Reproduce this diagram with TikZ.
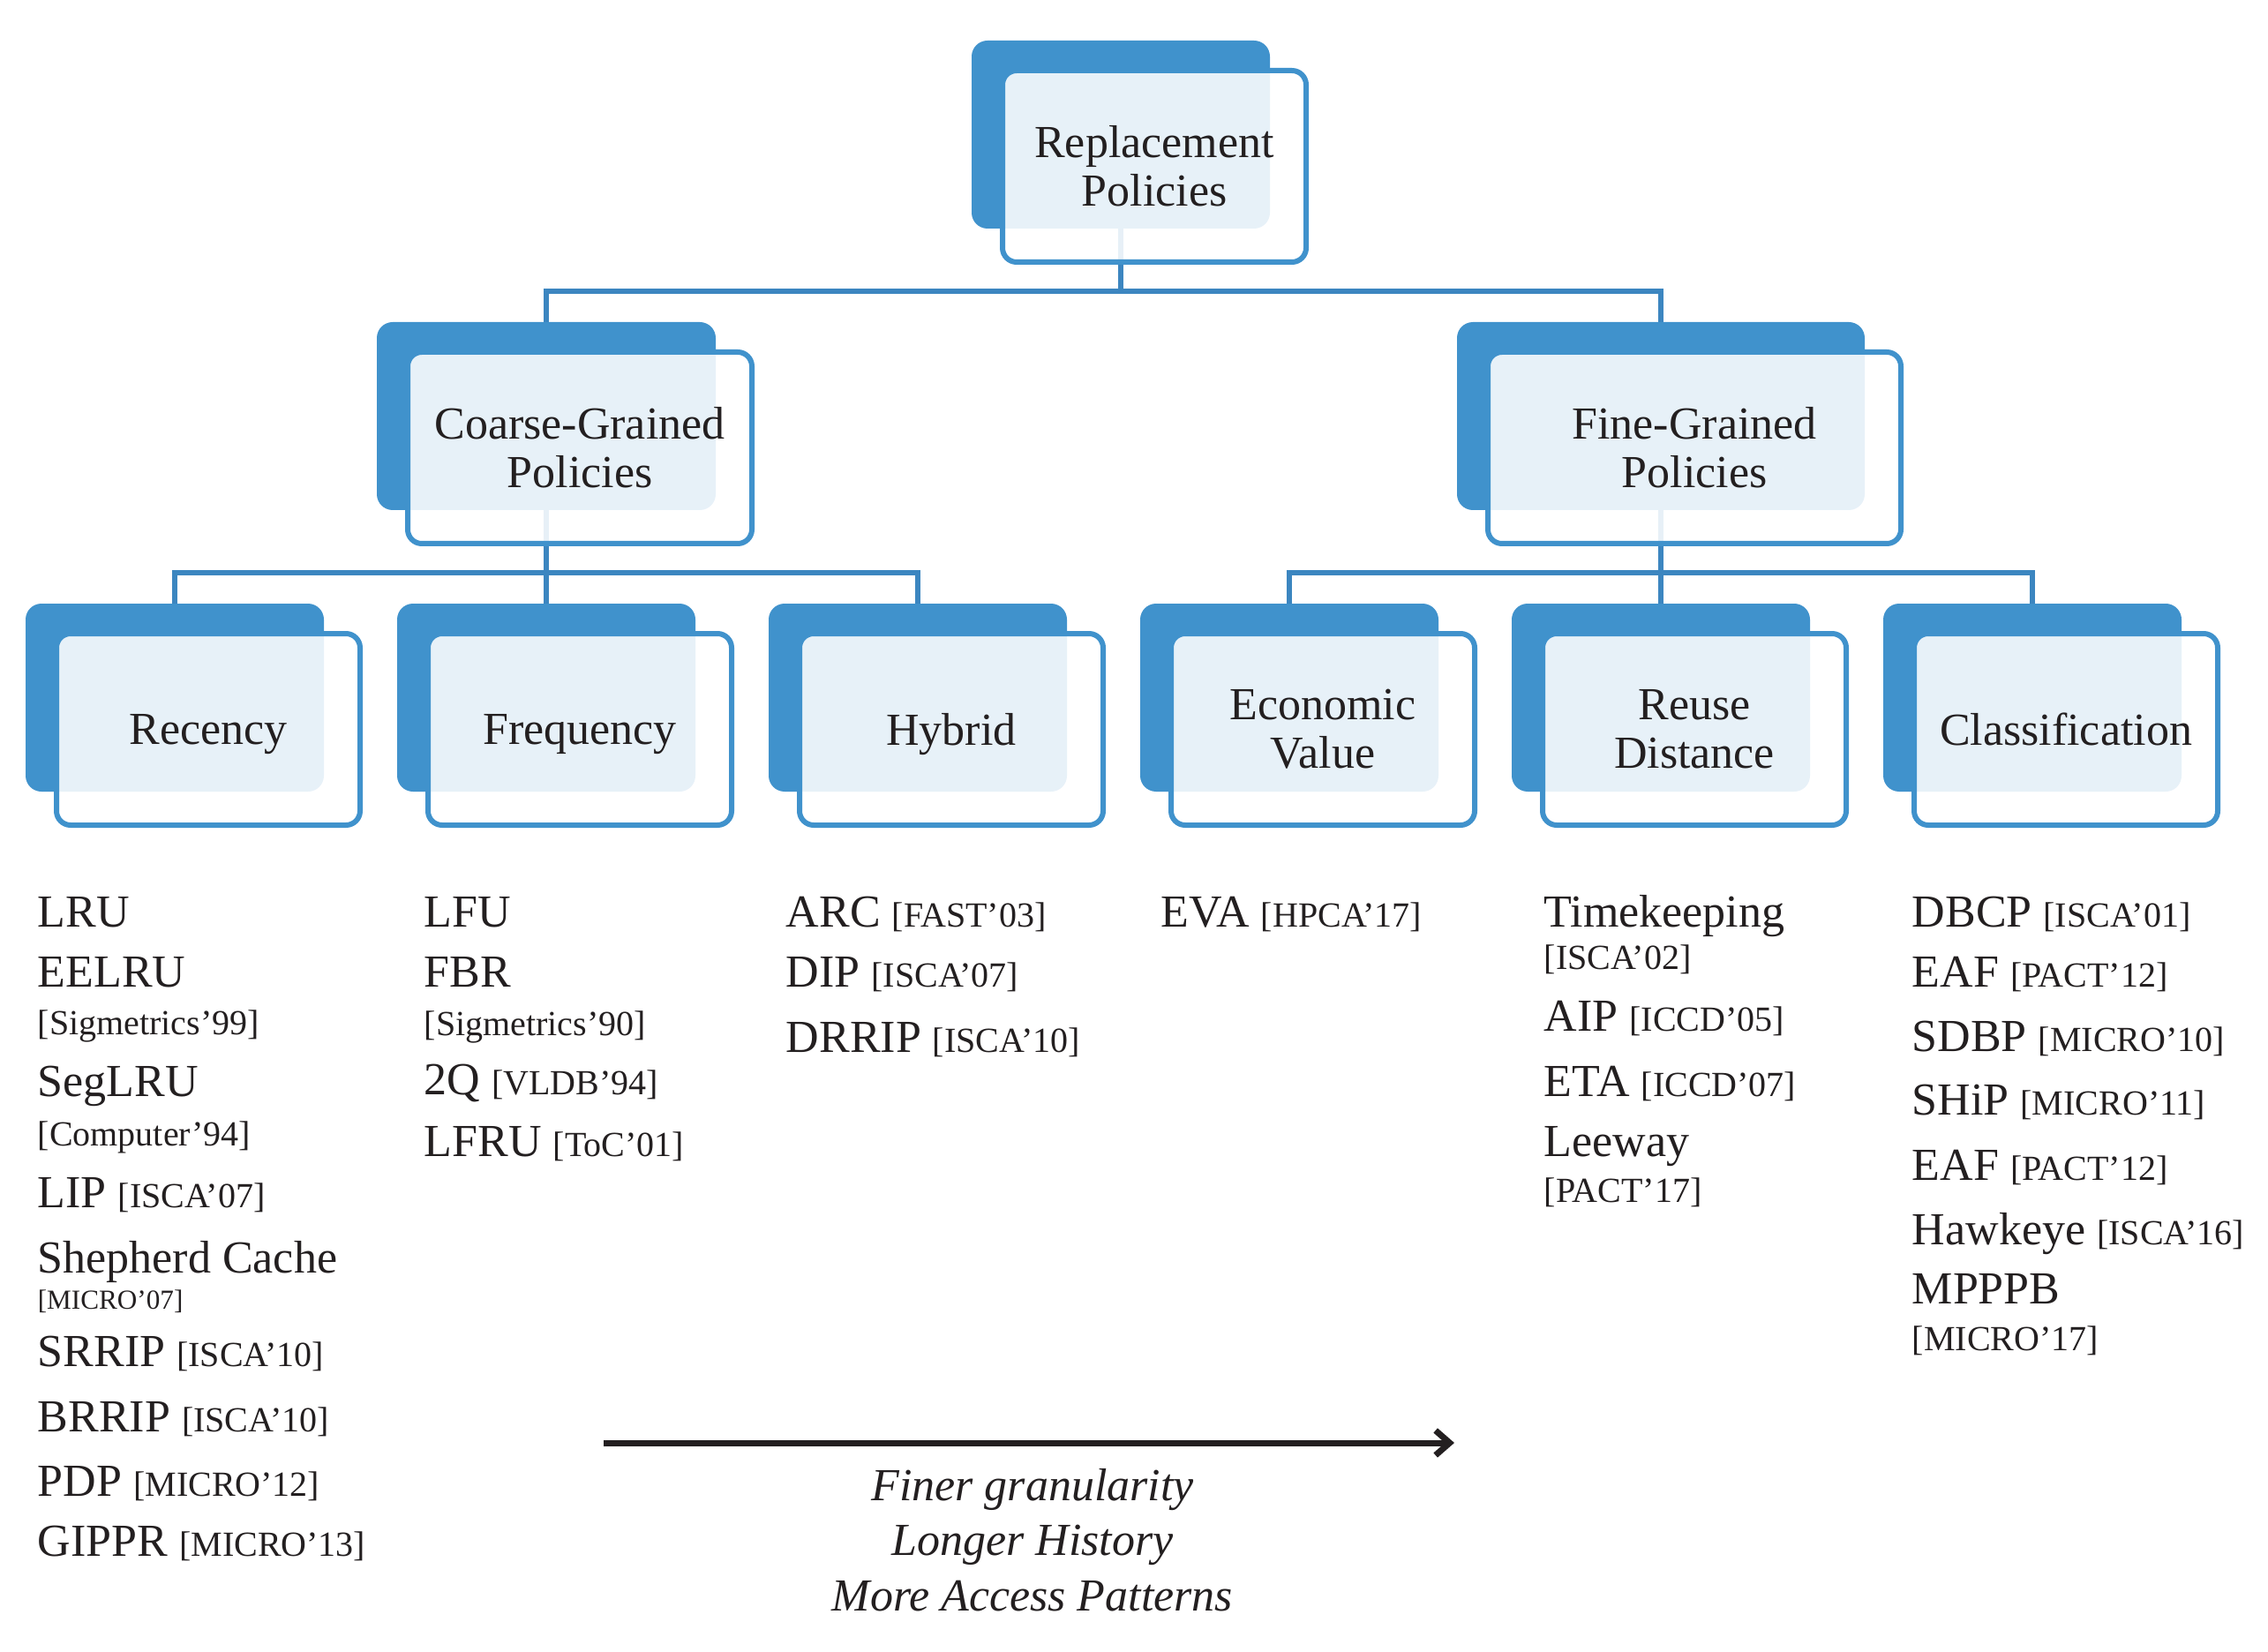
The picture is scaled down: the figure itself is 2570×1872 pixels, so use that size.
\documentclass[tikz,border=0pt]{standalone}
\usepackage{fontspec}
\setmainfont{Liberation Serif}
\usepackage{tikz}
\usetikzlibrary{arrows.meta}
\usetikzlibrary{backgrounds}

\definecolor{boxblue}{RGB}{64,146,204}
\definecolor{linkblue}{RGB}{60,134,192}
\definecolor{ink}{RGB}{35,31,32}

\newcommand{\boxfont}{\fontsize{13}{13.75}\selectfont}
\newcommand{\itemfont}{\fontsize{13}{15}\selectfont}
\newcommand{\citefont}{\fontsize{10}{11}\selectfont}
\newcommand{\tinycite}{\fontsize{7.8}{8}\selectfont}
\newcommand{\cit}[1]{{\citefont #1}}

\begin{document}
\begin{tikzpicture}[x=0.25pt,y=-0.25pt]
			\tikzstyle{every node}=[text=ink]
			\tikzstyle{backbox}=[fill=boxblue, rounded corners=4.5pt, inner sep=0pt, outer sep=0pt, minimum height=53.25pt, anchor=north west]
			\tikzstyle{frontbox}=[draw=boxblue, line width=1.5pt, fill=white, fill opacity=0.88, text opacity=1, rounded corners=4pt, minimum height=54.25pt, align=center, font=\boxfont, anchor=north west]
			\tikzstyle{oneline}=[text depth=0pt]
			\tikzstyle{link}=[draw=linkblue, line width=1.5pt]
			\tikzstyle{item}=[anchor=base west, inner sep=0pt, font=\itemfont]
			\tikzstyle{note}=[anchor=base, inner sep=0pt, font=\itemfont\itshape]
			\tikzstyle{trend}=[draw=ink, line width=1.75pt, -{Straight Barb[length=4pt,width=7pt]}]
			
			\useasboundingbox (0,0) rectangle (2570,1872);
			
			% top level
			\node[backbox, minimum width=84.5pt] (rp-b) at (1101,46) {};
			\node[frontbox, minimum width=86pt] (rp) at (1133,77) {Replacement\\Policies};
			
			% second level
			\node[backbox, minimum width=96pt] (cg-b) at (427,365) {};
			\node[frontbox, minimum width=97.5pt] (cg) at (459,396) {Coarse-Grained\\Policies};
			\node[backbox, minimum width=115.5pt] (fg-b) at (1651,365) {};
			\node[frontbox, minimum width=117pt] (fg) at (1683,396) {Fine-Grained\\Policies};
			
			% third level
			\node[backbox, minimum width=84.5pt] (rec-b) at (29,684) {};
			\node[frontbox, oneline, minimum width=86pt] (rec) at (61,715) {Recency};
			\node[backbox, minimum width=84.5pt] (frq-b) at (450,684) {};
			\node[frontbox, oneline, minimum width=86pt] (frq) at (482,715) {Frequency};
			\node[backbox, minimum width=84.5pt] (hyb-b) at (871,684) {};
			\node[frontbox, oneline, minimum width=86pt] (hyb) at (903,715) {Hybrid};
			\node[backbox, minimum width=84.5pt] (eco-b) at (1292,684) {};
			\node[frontbox, minimum width=86pt] (eco) at (1324,715) {Economic\\Value};
			\node[backbox, minimum width=84.5pt] (reu-b) at (1713,684) {};
			\node[frontbox, minimum width=86pt] (reu) at (1745,715) {Reuse\\Distance};
			\node[backbox, minimum width=84.5pt] (cls-b) at (2134,684) {};
			\node[frontbox, oneline, minimum width=86pt] (cls) at (2166,715) {Classification};
			
			% connectors, behind the boxes
			\begin{scope}[on background layer]
			\coordinate (j1) at (1270,330);
			\coordinate (j2) at (619,649);
			\coordinate (j3) at (1882,649);
			\draw[link] (rp-b.center) -- (j1);
			\draw[link] (cg-b.north) |- (j1) -| (fg-b.north);
			\draw[link] (cg-b.center) -- (frq-b.north);
			\draw[link] (rec-b.north) |- (j2) -| (hyb-b.north);
			\draw[link] (fg-b.center) -- (reu-b.north);
			\draw[link] (eco-b.north) |- (j3) -| (cls-b.north);
			\end{scope}
			
			% recency
			\node[item] (lru) at (42,1050) {LRU};
			\node[item] (eelru) at (42,1118) {EELRU};
			\node[item, font=\citefont] (eelru-c) at (42,1172) {[Sigmetrics'99]};
			\node[item] (seglru) at (42,1242) {SegLRU};
			\node[item, font=\citefont] (seglru-c) at (42,1298) {[Computer'94]};
			\node[item] (lip) at (42,1368) {LIP \cit{[ISCA'07]}};
			\node[item] (shep) at (42,1442) {Shepherd Cache};
			\node[item, font=\tinycite] (shep-c) at (42,1483) {[MICRO'07]};
			\node[item] (srrip) at (42,1548) {SRRIP \cit{[ISCA'10]}};
			\node[item] (brrip) at (42,1622) {BRRIP \cit{[ISCA'10]}};
			\node[item] (pdp) at (42,1695) {PDP \cit{[MICRO'12]}};
			\node[item] (gippr) at (42,1763) {GIPPR \cit{[MICRO'13]}};
			
			% frequency
			\node[item] (lfu) at (480,1050) {LFU};
			\node[item] (fbr) at (480,1118) {FBR};
			\node[item, font=\citefont] (fbr-c) at (480,1173) {[Sigmetrics'90]};
			\node[item] (twoq) at (480,1240) {2Q \cit{[VLDB'94]}};
			\node[item] (lfru) at (480,1310) {LFRU \cit{[ToC'01]}};
			
			% hybrid
			\node[item] (arc) at (890,1050) {ARC \cit{[FAST'03]}};
			\node[item] (dip) at (890,1118) {DIP \cit{[ISCA'07]}};
			\node[item] (drrip) at (890,1192) {DRRIP \cit{[ISCA'10]}};
			
			% economic value
			\node[item] (eva) at (1315,1050) {EVA \cit{[HPCA'17]}};
			
			% reuse distance
			\node[item] (tk) at (1749,1050) {Timekeeping};
			\node[item, font=\citefont] (tk-c) at (1749,1098) {[ISCA'02]};
			\node[item] (aip) at (1749,1168) {AIP \cit{[ICCD'05]}};
			\node[item] (eta) at (1749,1242) {ETA \cit{[ICCD'07]}};
			\node[item] (lee) at (1749,1310) {Leeway};
			\node[item, font=\citefont] (lee-c) at (1749,1362) {[PACT'17]};
			
			% classification
			\node[item] (dbcp) at (2166,1050) {DBCP \cit{[ISCA'01]}};
			\node[item] (eaf) at (2166,1118) {EAF \cit{[PACT'12]}};
			\node[item] (sdbp) at (2166,1191) {SDBP \cit{[MICRO'10]}};
			\node[item] (ship) at (2166,1263) {SHiP \cit{[MICRO'11]}};
			\node[item] (eaf2) at (2166,1337) {EAF \cit{[PACT'12]}};
			\node[item] (hawk) at (2166,1410) {Hawkeye \cit{[ISCA'16]}};
			\node[item] (mpppb) at (2166,1477) {MPPPB};
			\node[item, font=\citefont] (mpppb-c) at (2166,1530) {[MICRO'17]};
			
			% granularity arrow
			\coordinate (gr-s) at (684,1635);
			\coordinate (gr-e) at (1648,1635);
			\draw[trend] (gr-s) -- (gr-e);
			\node[note] (n1) at (1170,1700) {Finer granularity};
			\node[note] (n2) at (1170,1762) {Longer History};
			\node[note] (n3) at (1170,1825) {More Access Patterns};
			
\end{tikzpicture}
\end{document}
